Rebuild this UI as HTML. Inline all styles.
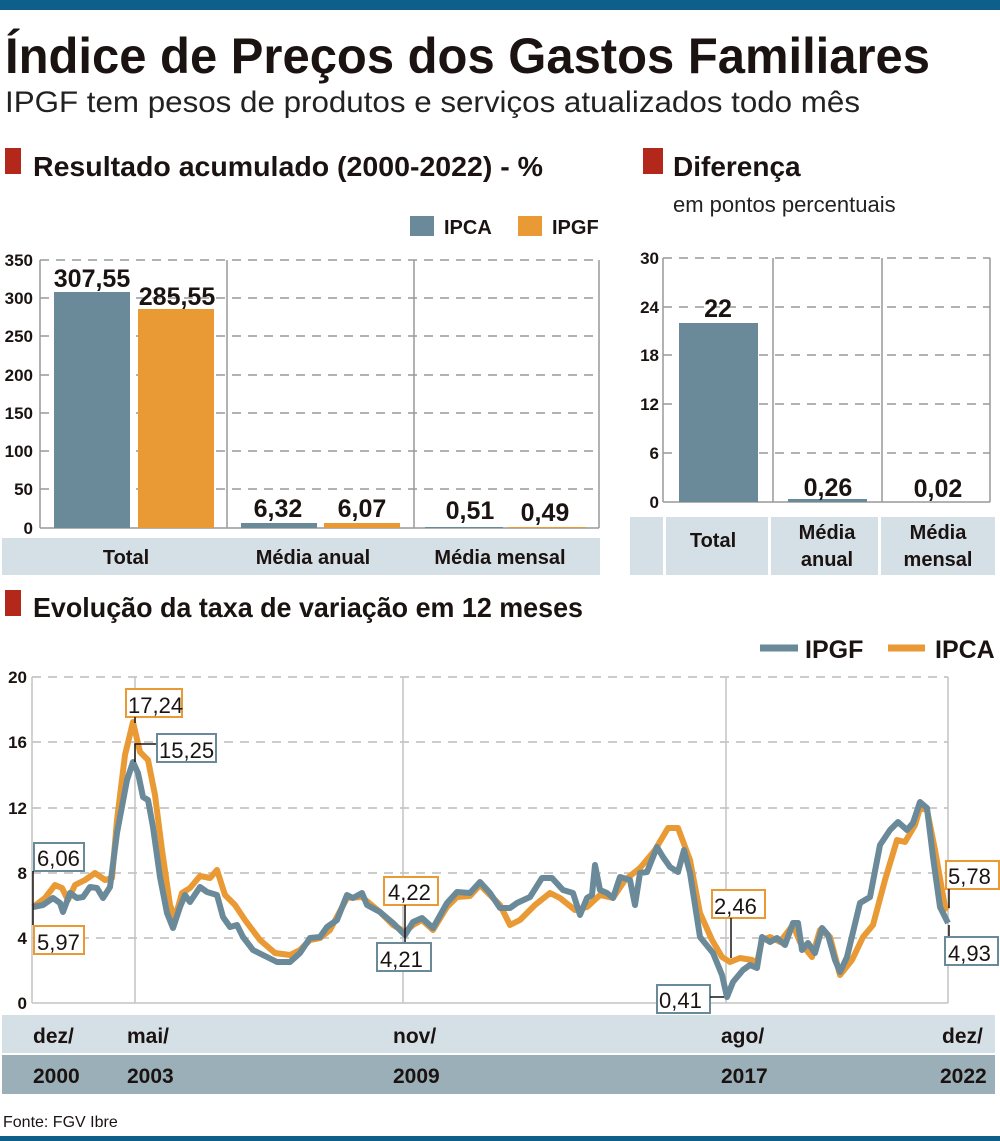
<!DOCTYPE html>
<html><head><meta charset="utf-8"><style>
body{margin:0;background:#fff}
svg{display:block}
.n{font-family:"Liberation Sans Narrow","Liberation Sans",sans-serif}
.b{font-weight:bold}
</style></head><body>
<svg width="1000" height="1141" viewBox="0 0 1000 1141" xmlns="http://www.w3.org/2000/svg" class="n">
<rect x="0" y="0" width="1000" height="10" fill="#0e5f8a"/>
<text x="5" y="73" font-size="50" font-weight="bold" fill="#1a1311" textLength="925" lengthAdjust="spacingAndGlyphs">Índice de Preços dos Gastos Familiares</text>
<text x="5" y="112" font-size="30" fill="#222" textLength="855" lengthAdjust="spacingAndGlyphs">IPGF tem pesos de produtos e serviços atualizados todo mês</text>
<rect x="5" y="148" width="16" height="26" fill="#b3281a"/>
<text x="33" y="176" font-size="28" font-weight="bold" fill="#1a1311" textLength="510" lengthAdjust="spacingAndGlyphs">Resultado acumulado (2000-2022) - %</text>
<rect x="410" y="216" width="24" height="20" fill="#6a8a99"/>
<text x="444" y="234" font-size="20" font-weight="bold" fill="#1a1311">IPCA</text>
<rect x="518" y="216" width="24" height="20" fill="#e99a34"/>
<text x="552" y="234" font-size="20" font-weight="bold" fill="#1a1311">IPGF</text>
<!-- left bar chart -->
<g stroke="#999" stroke-width="1.5" stroke-dasharray="9,7">
<line x1="40" y1="260" x2="598" y2="260"/><line x1="40" y1="298" x2="598" y2="298"/><line x1="40" y1="336" x2="598" y2="336"/><line x1="40" y1="375" x2="598" y2="375"/><line x1="40" y1="413" x2="598" y2="413"/><line x1="40" y1="451" x2="598" y2="451"/><line x1="40" y1="489" x2="598" y2="489"/>
</g>
<g stroke="#999" stroke-width="1.5" fill="none">
<line x1="40" y1="260" x2="40" y2="528"/><line x1="227" y1="260" x2="227" y2="528"/><line x1="414" y1="260" x2="414" y2="528"/><line x1="599" y1="260" x2="599" y2="528"/><line x1="40" y1="528" x2="599" y2="528"/>
</g>
<g font-size="17" font-weight="bold" fill="#1a1311" text-anchor="end">
<text x="33" y="266">350</text><text x="33" y="304">300</text><text x="33" y="342">250</text><text x="33" y="381">200</text><text x="33" y="419">150</text><text x="33" y="457">100</text><text x="33" y="495">50</text><text x="33" y="534">0</text>
</g>
<rect x="54" y="292" width="76" height="236" fill="#6a8a99"/>
<rect x="138" y="309" width="76" height="219" fill="#e99a34"/>
<rect x="241" y="523" width="76" height="5" fill="#6a8a99"/>
<rect x="324" y="523" width="76" height="5" fill="#e99a34"/>
<rect x="425" y="527" width="78" height="1" fill="#6a8a99"/>
<rect x="508" y="527" width="78" height="1" fill="#e99a34"/>
<g font-size="25" font-weight="bold" fill="#1a1311" text-anchor="middle">
<text x="92" y="287">307,55</text><text x="177" y="305">285,55</text>
<text x="278" y="517">6,32</text><text x="362" y="517">6,07</text>
<text x="470" y="519">0,51</text><text x="545" y="521">0,49</text>
</g>
<rect x="2" y="538" width="598" height="37" fill="#d5dfe6"/>
<g font-size="20" font-weight="bold" fill="#1a1311" text-anchor="middle">
<text x="126" y="564">Total</text><text x="313" y="564">Média anual</text><text x="500" y="564">Média mensal</text>
</g>
<!-- right chart -->
<rect x="643" y="148" width="20" height="26" fill="#b3281a"/>
<text x="673" y="176" font-size="28" font-weight="bold" fill="#1a1311">Diferença</text>
<text x="673" y="212" font-size="22" fill="#222">em pontos percentuais</text>
<g stroke="#999" stroke-width="1.5" stroke-dasharray="9,7">
<line x1="663" y1="258" x2="990" y2="258"/><line x1="663" y1="307" x2="990" y2="307"/><line x1="663" y1="355" x2="990" y2="355"/><line x1="663" y1="404" x2="990" y2="404"/><line x1="663" y1="453" x2="990" y2="453"/>
</g>
<g stroke="#999" stroke-width="1.5">
<line x1="663" y1="258" x2="663" y2="502"/><line x1="773" y1="258" x2="773" y2="502"/><line x1="882" y1="258" x2="882" y2="502"/><line x1="990" y1="258" x2="990" y2="502"/><line x1="663" y1="502" x2="990" y2="502"/>
</g>
<g font-size="17" font-weight="bold" fill="#1a1311" text-anchor="end">
<text x="659" y="264">30</text><text x="659" y="313">24</text><text x="659" y="361">18</text><text x="659" y="410">12</text><text x="659" y="459">6</text><text x="659" y="508">0</text>
</g>
<rect x="679" y="323" width="79" height="179" fill="#6a8a99"/>
<rect x="788" y="499" width="79" height="3" fill="#6a8a99"/>
<g font-size="25" font-weight="bold" fill="#1a1311" text-anchor="middle">
<text x="718" y="317">22</text><text x="828" y="496">0,26</text><text x="938" y="497">0,02</text>
</g>
<rect x="630" y="517" width="33" height="58" fill="#d5dfe6"/>
<rect x="666" y="517" width="102" height="58" fill="#d5dfe6"/>
<rect x="771" y="517" width="107" height="58" fill="#d5dfe6"/>
<rect x="881" y="517" width="114" height="58" fill="#d5dfe6"/>
<g font-size="20" font-weight="bold" fill="#1a1311" text-anchor="middle">
<text x="713" y="547">Total</text><text x="827" y="539">Média</text><text x="827" y="566">anual</text><text x="938" y="539">Média</text><text x="938" y="566">mensal</text>
</g>
<!-- line chart -->
<rect x="5" y="590" width="16" height="26" fill="#b3281a"/>
<text x="33" y="617" font-size="28" font-weight="bold" fill="#1a1311" textLength="550" lengthAdjust="spacingAndGlyphs">Evolução da taxa de variação em 12 meses</text>
<line x1="760" y1="648" x2="798" y2="648" stroke="#6a8a99" stroke-width="7"/>
<text x="805" y="658" font-size="25" font-weight="bold" fill="#1a1311">IPGF</text>
<line x1="888" y1="648" x2="925" y2="648" stroke="#e99a34" stroke-width="7"/>
<text x="935" y="658" font-size="25" font-weight="bold" fill="#1a1311">IPCA</text>
<g stroke="#bbb" stroke-width="1.5" stroke-dasharray="9,7">
<line x1="32" y1="677" x2="948" y2="677"/><line x1="32" y1="742" x2="948" y2="742"/><line x1="32" y1="808" x2="948" y2="808"/><line x1="32" y1="873" x2="948" y2="873"/><line x1="32" y1="938" x2="948" y2="938"/>
</g>
<g stroke="#c4c4c4" stroke-width="1.5">
<line x1="32" y1="677" x2="32" y2="1003"/><line x1="135" y1="677" x2="135" y2="1003"/><line x1="403" y1="677" x2="403" y2="1003"/><line x1="726" y1="677" x2="726" y2="1003"/><line x1="948" y1="677" x2="948" y2="1003"/><line x1="32" y1="1003" x2="948" y2="1003"/>
</g>
<g font-size="17" font-weight="bold" fill="#1a1311" text-anchor="end">
<text x="27" y="683">20</text><text x="27" y="748">16</text><text x="27" y="814">12</text><text x="27" y="879">8</text><text x="27" y="944">4</text><text x="27" y="1009">0</text>
</g>
<polyline fill="none" stroke="#e99a34" stroke-width="6" stroke-linejoin="round" points="33,907 45,898 55,885 62,888 68,900 75,885 85,880 95,873 105,880 112,878 117,820 125,755 133,722 140,752 148,760 155,795 162,850 170,905 175,918 182,893 190,888 200,876 210,878 217,870 225,895 235,905 245,920 260,940 275,953 290,955 300,950 310,940 320,938 330,930 347,898 362,897 380,912 393,925 405,932 413,925 422,920 433,930 447,907 457,897 470,896 480,885 490,895 500,905 510,925 520,920 535,905 550,893 560,898 575,910 587,907 600,895 613,898 625,880 640,868 655,850 668,828 678,828 690,860 700,913 712,940 722,957 730,962 740,958 752,960 757,963 762,940 770,937 780,942 793,925 800,942 812,957 820,930 830,937 840,975 852,960 863,937 873,925 885,880 897,840 905,842 915,825 920,808 927,810 935,850 945,907 948,910"/>
<polyline fill="none" stroke="#6a8a99" stroke-width="6" stroke-linejoin="round" points="33,907 43,905 53,898 60,903 63,912 70,893 77,898 83,897 90,887 97,888 103,898 110,887 117,833 127,780 133,762 138,773 143,797 148,800 153,827 160,877 167,913 173,928 180,907 185,895 190,902 200,887 207,892 217,895 223,917 230,927 237,925 243,937 253,950 267,957 277,962 290,962 300,953 310,938 320,937 327,927 337,920 347,895 353,898 362,893 367,905 380,912 393,923 405,935 413,922 422,918 433,928 447,903 457,892 470,893 480,882 490,893 500,908 510,908 517,903 530,897 542,878 552,878 563,890 573,893 580,915 587,898 592,895 595,865 600,890 607,893 613,898 620,877 630,880 635,905 640,873 647,872 657,847 663,857 670,867 678,872 684,850 690,873 700,937 713,953 722,975 727,997 733,982 743,970 750,965 757,968 762,937 770,942 777,938 785,945 793,923 798,923 802,950 808,943 815,953 822,928 828,935 835,960 840,972 847,957 860,903 870,897 880,845 890,830 898,822 907,830 913,823 920,802 927,808 933,857 940,907 948,923"/>
<!-- annotations -->
<g font-size="22" fill="#1a1311" stroke-width="2" class="n">
<rect x="34" y="843" width="50" height="28" fill="#fff" stroke="#6a8a99"/><text x="37" y="866">6,06</text>
<line x1="33" y1="871" x2="33" y2="925" stroke="#1a1311" stroke-width="1.5"/>
<rect x="34" y="926" width="50" height="28" fill="#fff" stroke="#e99a34"/><text x="37" y="950">5,97</text>
<rect x="126" y="689" width="56" height="28" fill="#fff" stroke="#e99a34"/><text x="128" y="713">17,24</text>
<line x1="135" y1="717" x2="135" y2="723" stroke="#1a1311" stroke-width="1.5"/>
<polyline points="135,762 135,744 156,744" fill="none" stroke="#1a1311" stroke-width="1.5"/>
<rect x="157" y="734" width="59" height="28" fill="#fff" stroke="#6a8a99"/><text x="159" y="758">15,25</text>
<rect x="384" y="877" width="54" height="28" fill="#fff" stroke="#e99a34"/><text x="388" y="900">4,22</text>
<line x1="405" y1="905" x2="405" y2="943" stroke="#1a1311" stroke-width="1.5"/>
<rect x="377" y="943" width="54" height="28" fill="#fff" stroke="#6a8a99"/><text x="380" y="967">4,21</text>
<rect x="712" y="890" width="53" height="28" fill="#fff" stroke="#e99a34"/><text x="714" y="914">2,46</text>
<line x1="731" y1="918" x2="731" y2="958" stroke="#1a1311" stroke-width="1.5"/>
<rect x="657" y="985" width="53" height="28" fill="#fff" stroke="#6a8a99"/><text x="659" y="1008">0,41</text>
<line x1="710" y1="997" x2="724" y2="997" stroke="#1a1311" stroke-width="1.5"/>
<rect x="946" y="861" width="53" height="28" fill="#fff" stroke="#e99a34"/><text x="948" y="884">5,78</text>
<line x1="949" y1="889" x2="949" y2="908" stroke="#1a1311" stroke-width="1.5"/>
<line x1="949" y1="925" x2="949" y2="937" stroke="#1a1311" stroke-width="1.5"/>
<rect x="945" y="937" width="53" height="28" fill="#fff" stroke="#6a8a99"/><text x="948" y="961">4,93</text>
</g>
<rect x="2" y="1015" width="993" height="38" fill="#d5dfe6"/>
<rect x="2" y="1055" width="993" height="39" fill="#9aafb8"/>
<g font-size="21" font-weight="bold" fill="#1a1311">
<text x="33" y="1043">dez/</text><text x="127" y="1043">mai/</text><text x="393" y="1043">nov/</text><text x="721" y="1043">ago/</text><text x="942" y="1043">dez/</text>
<text x="33" y="1083">2000</text><text x="127" y="1083">2003</text><text x="393" y="1083">2009</text><text x="721" y="1083">2017</text><text x="940" y="1083">2022</text>
</g>
<text x="3" y="1127" font-size="16" fill="#1a1311">Fonte: FGV Ibre</text>
<rect x="0" y="1136" width="1000" height="5" fill="#0e5f8a"/>
</svg>
</body></html>
